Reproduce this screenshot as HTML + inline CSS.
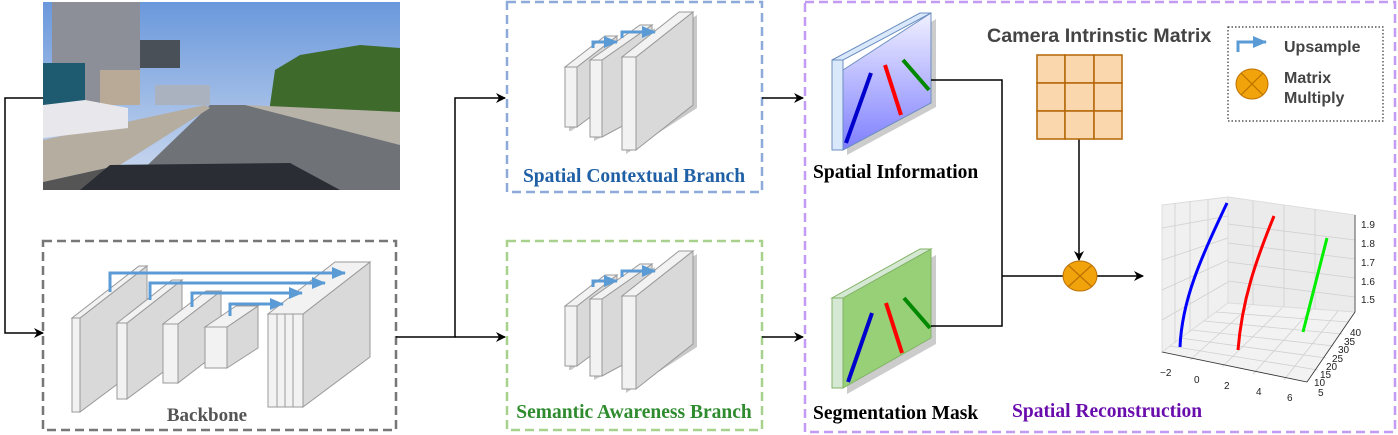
<!DOCTYPE html>
<html><head><meta charset="utf-8"><style>
html,body{margin:0;padding:0;background:#fff;}
svg{display:block;}
.sr{font-family:"Liberation Serif",serif;font-weight:bold;}
.ss{font-family:"Liberation Sans",sans-serif;font-weight:bold;}
.tk{font-family:"Liberation Sans",sans-serif;font-size:10px;fill:#222;}
</style></head><body>
<svg width="1398" height="435" viewBox="0 0 1398 435" xmlns="http://www.w3.org/2000/svg">
<defs>
<marker id="ah" markerWidth="10" markerHeight="10" refX="9" refY="5" orient="auto" markerUnits="userSpaceOnUse"><path d="M0,0 L10,5 L0,10 L3,5 z" fill="#000"/></marker>
<marker id="bh" markerWidth="14" markerHeight="12" refX="13" refY="6" orient="auto" markerUnits="userSpaceOnUse"><path d="M0,0 L14,6 L0,12 z" fill="#5b9bd5"/></marker>
<linearGradient id="sky" x1="0" y1="0" x2="0" y2="1"><stop offset="0" stop-color="#6a98dc"/><stop offset="1" stop-color="#d0dcf0"/></linearGradient>
<linearGradient id="bl" x1="0" y1="0" x2="0" y2="1"><stop offset="0" stop-color="#f0f0ff"/><stop offset="1" stop-color="#7f7fff"/></linearGradient>
</defs>

<!-- photo -->
<rect x="43" y="2" width="357" height="188" fill="url(#sky)"/>
<rect x="52" y="2" width="88" height="103" fill="#8d8f98"/>
<rect x="100" y="70" width="40" height="35" fill="#b9aa98"/>
<rect x="140" y="40" width="40" height="28" fill="#4a5058"/>
<rect x="43" y="63" width="42" height="42" fill="#1e5a70"/>
<rect x="155" y="85" width="55" height="20" fill="#aab2c0"/>
<path d="M270,105 L275,70 L300,55 L330,50 L360,45 L400,48 L400,118 L270,108 z" fill="#3e6a2c"/>
<path d="M245,105 L400,112 L400,145 L250,110 z" fill="#b8b3a8"/>
<path d="M130,182 L210,105 L245,105 L400,145 L400,190 L130,190 z" fill="#6f7378"/>
<path d="M43,140 L205,105 L210,108 L120,165 L43,182 z" fill="#b5ada0"/>
<path d="M43,105 L85,100 L128,108 L128,128 L43,138 z" fill="#e8e8ec"/>
<path d="M43,182 L120,165 L130,190 L43,190 z" fill="#555"/>
<path d="M80,190 L110,165 L290,163 L340,190 z" fill="#2a2d33"/>

<path d="M43,98 L5,98 L5,333 L43,333" fill="none" stroke="#000" stroke-width="1.5" marker-end="url(#ah)"/>

<rect x="43" y="241" width="353" height="189" fill="none" stroke="#777" stroke-width="2.5" stroke-dasharray="9,5"/>
<g stroke="#999" stroke-width="1" fill="#d9d9d9">
<path d="M80,318 L147,266 L147,362 L80,412 z"/>
<path d="M72,318 L80,318 L147,266 L139,266 z" fill="#f2f2f2"/>
<rect x="72" y="318" width="8" height="94" fill="#f2f2f2"/>
<path d="M127,323 L182,280 L182,358 L127,399 z"/>
<path d="M117,323 L127,323 L182,280 L172,280 z" fill="#f2f2f2"/>
<rect x="117" y="323" width="10" height="76" fill="#f2f2f2"/>
<path d="M178,324 L221,291 L221,350 L178,383 z"/>
<path d="M163,324 L178,324 L221,291 L206,291 z" fill="#f2f2f2"/>
<rect x="163" y="324" width="15" height="59" fill="#f2f2f2"/>
<path d="M227,327 L258,306 L258,348 L227,368 z"/>
<path d="M205,327 L227,327 L258,306 L236,306 z" fill="#f2f2f2"/>
<rect x="205" y="327" width="22" height="41" fill="#f2f2f2"/>
<path d="M303,314 L370,262 L370,357 L303,407 z"/>
<path d="M268,314 L303,314 L370,262 L335,262 z" fill="#f2f2f2"/>
<rect x="268" y="314" width="35" height="93" fill="#f2f2f2"/>
<line x1="277" y1="314" x2="277" y2="407"/><line x1="285" y1="314" x2="285" y2="407"/><line x1="293" y1="314" x2="293" y2="407"/>
</g>
<g stroke="#5b9bd5" stroke-width="3" fill="none">
<path d="M110,292 L110,273 L345,273" marker-end="url(#bh)"/>
<path d="M150,300 L150,283 L325,283" marker-end="url(#bh)"/>
<path d="M192,307 L192,293 L302,293" marker-end="url(#bh)"/>
<path d="M230,316 L230,304 L283,304" marker-end="url(#bh)"/>
</g>
<text x="207" y="421" text-anchor="middle" class="sr" font-size="19" fill="#555">Backbone</text>

<path d="M396,337 L455,337 L455,98 L505,98" fill="none" stroke="#000" stroke-width="1.5" marker-end="url(#ah)"/>
<path d="M455,337 L505,337" fill="none" stroke="#000" stroke-width="1.5" marker-end="url(#ah)"/>

<rect x="507" y="2" width="255" height="190" fill="none" stroke="#8eaadb" stroke-width="2.5" stroke-dasharray="9,5"/>
<rect x="507" y="241" width="255" height="189" fill="none" stroke="#a9d18e" stroke-width="2.5" stroke-dasharray="9,5"/>
<g id="br">
<g stroke="#999" stroke-width="1" fill="#d9d9d9">
<path d="M569,131 L571,131 L620,96 L620,40 L569,70 z" fill="#c8c8c8" stroke="none"/>
<path d="M594,141 L655,110 L655,28 L594,64 z" fill="#c8c8c8" stroke="none"/>
<path d="M626,154 L697,108 L697,15 L626,60 z" fill="#c8c8c8" stroke="none"/>
<path d="M577,67 L617,36 L617,97 L577,127 z"/>
<path d="M565,67 L577,67 L617,36 L605,36 z" fill="#f2f2f2"/>
<rect x="565" y="67" width="12" height="60" fill="#f2f2f2"/>
<path d="M602,60 L652,25 L652,110 L602,137 z"/>
<path d="M590,60 L602,60 L652,25 L640,25 z" fill="#f2f2f2"/>
<rect x="590" y="60" width="12" height="77" fill="#f2f2f2"/>
<path d="M636,57 L693,12 L693,105 L636,150 z"/>
<path d="M622,57 L636,57 L693,12 L679,12 z" fill="#f2f2f2"/>
<rect x="622" y="57" width="14" height="93" fill="#f2f2f2"/>
</g>
<g stroke="#5b9bd5" stroke-width="3" fill="none">
<path d="M593,48 L593,42 L617,42" marker-end="url(#bh)"/>
<path d="M622,38 L622,32 L655,32" marker-end="url(#bh)"/>
</g>
</g>
<use href="#br" transform="translate(0,239)"/>
<text x="634" y="182" text-anchor="middle" class="sr" font-size="19.5" fill="#1f5fa5">Spatial Contextual Branch</text>
<text x="634" y="418" text-anchor="middle" class="sr" font-size="19.5" fill="#2e8b2e">Semantic Awareness Branch</text>

<path d="M762,98 L803,98" stroke="#000" stroke-width="1.5" marker-end="url(#ah)"/>
<path d="M762,337 L803,337" stroke="#000" stroke-width="1.5" marker-end="url(#ah)"/>

<rect x="805" y="2" width="590" height="430" fill="none" stroke="#c39bf5" stroke-width="2.5" stroke-dasharray="9,5"/>

<!-- spatial info slab -->
<path d="M847,155 L936,107 L936,19 L847,76 z" fill="#ccc"/>
<path d="M843,70 L931,13 L931,103 L843,150 z" fill="url(#bl)" stroke="#6c8ebf"/>
<path d="M832,60 L843,60 L931,13 L920,13 z" fill="#dae8fc" stroke="#6c8ebf"/>
<rect x="832" y="60" width="11" height="90" fill="#dae8fc" stroke="#6c8ebf"/>
<line x1="846" y1="143" x2="871" y2="73" stroke="#0000cc" stroke-width="4"/>
<line x1="885" y1="65" x2="901" y2="115" stroke="#ff0000" stroke-width="4"/>
<line x1="903" y1="60" x2="929" y2="90" stroke="#008800" stroke-width="4"/>
<text x="813" y="178" class="sr" font-size="19.5" fill="#000">Spatial Information</text>

<!-- seg mask slab -->
<path d="M847,394 L936,344 L936,255 L847,304 z" fill="#ccc"/>
<path d="M843,298 L931,249 L931,338 L843,388 z" fill="#97d077" stroke="#82b366"/>
<path d="M832,298 L843,298 L931,249 L920,249 z" fill="#d5e8d4" stroke="#82b366"/>
<rect x="832" y="298" width="11" height="90" fill="#d5e8d4" stroke="#82b366"/>
<line x1="848" y1="382" x2="872" y2="313" stroke="#0000cc" stroke-width="4"/>
<line x1="886" y1="303" x2="902" y2="353" stroke="#ff0000" stroke-width="4"/>
<line x1="904" y1="298" x2="930" y2="328" stroke="#008800" stroke-width="4"/>
<text x="813" y="419" class="sr" font-size="19.5" fill="#000">Segmentation Mask</text>
<text x="1012" y="417" class="sr" font-size="19.5" fill="#6a0dad">Spatial Reconstruction</text>

<path d="M931,80 L1002,80 L1002,326 L931,326" fill="none" stroke="#000" stroke-width="1.5"/>
<path d="M1002,276 L1063,276" stroke="#000" stroke-width="1.5"/>
<path d="M1097,276 L1143,276" stroke="#000" stroke-width="1.5" marker-end="url(#ah)"/>
<path d="M1079,139 L1079,260" stroke="#000" stroke-width="1.5" marker-end="url(#ah)"/>
<ellipse cx="1080" cy="276" rx="17" ry="15" fill="#f0a30a" stroke="#bd7000"/>
<path d="M1068,265 L1092,287 M1092,265 L1068,287" stroke="#bd7000" stroke-width="1.2"/>

<text x="987" y="42" class="ss" font-size="19.7" fill="#444">Camera Intrinstic Matrix</text>
<g fill="#fad7ac" stroke="#b46504" stroke-width="1.5">
<rect x="1037" y="55" width="28" height="28"/><rect x="1065" y="55" width="29" height="28"/><rect x="1094" y="55" width="28" height="28"/>
<rect x="1037" y="83" width="28" height="28"/><rect x="1065" y="83" width="29" height="28"/><rect x="1094" y="83" width="28" height="28"/>
<rect x="1037" y="111" width="28" height="28"/><rect x="1065" y="111" width="29" height="28"/><rect x="1094" y="111" width="28" height="28"/>
</g>

<rect x="1228" y="27" width="155" height="94" fill="none" stroke="#333" stroke-width="1.2" stroke-dasharray="1.5,2"/>
<path d="M1238,52 L1238,42 L1266,42" stroke="#5b9bd5" stroke-width="3" fill="none" marker-end="url(#bh)"/>
<text x="1284" y="52" class="ss" font-size="16" fill="#444">Upsample</text>
<ellipse cx="1252" cy="84" rx="16" ry="15" fill="#f0a30a" stroke="#bd7000"/>
<path d="M1241,73 L1263,95 M1263,73 L1241,95" stroke="#bd7000" stroke-width="1.2"/>
<text x="1284" y="83" class="ss" font-size="16" fill="#444">Matrix</text>
<text x="1284" y="103" class="ss" font-size="16" fill="#444">Multiply</text>

<!-- 3D plot -->
<path d="M1162,205 L1228,197 L1228,303 L1162,352 z" fill="#f0f0f0" stroke="#ddd"/>
<path d="M1228,197 L1355,215 L1355,312 L1228,303 z" fill="#ebebeb" stroke="#ddd"/>
<path d="M1162,352 L1228,303 L1355,312 L1307,382 z" fill="#f2f2f2" stroke="#ddd"/>
<g stroke="#d0d0d0" stroke-width="0.8">
<line x1="1175" y1="203" x2="1175" y2="343"/><line x1="1190" y1="201" x2="1190" y2="332"/><line x1="1208" y1="199" x2="1208" y2="318"/>
<line x1="1253" y1="201" x2="1253" y2="305"/><line x1="1284" y1="205" x2="1284" y2="307"/><line x1="1315" y1="209" x2="1315" y2="309"/>
<line x1="1162" y1="228" x2="1228" y2="216"/><line x1="1162" y1="260" x2="1228" y2="238"/><line x1="1162" y1="290" x2="1228" y2="260"/><line x1="1162" y1="320" x2="1228" y2="282"/>
<line x1="1228" y1="224" x2="1355" y2="240"/><line x1="1228" y1="243" x2="1355" y2="259"/><line x1="1228" y1="262" x2="1355" y2="278"/><line x1="1228" y1="281" x2="1355" y2="297"/>
<line x1="1190" y1="360" x2="1250" y2="306"/><line x1="1222" y1="367" x2="1282" y2="308"/><line x1="1253" y1="374" x2="1312" y2="309"/><line x1="1284" y1="380" x2="1338" y2="311"/>
<line x1="1170" y1="346" x2="1318" y2="370"/><line x1="1180" y1="338" x2="1326" y2="358"/><line x1="1192" y1="330" x2="1334" y2="346"/><line x1="1204" y1="321" x2="1342" y2="334"/><line x1="1216" y1="312" x2="1348" y2="322"/>
</g>
<g stroke="#333" stroke-width="0.8" fill="none">
<line x1="1162" y1="352" x2="1307" y2="382"/>
<line x1="1307" y1="382" x2="1355" y2="312"/>
<line x1="1355" y1="215" x2="1355" y2="312"/>
</g>
<path d="M1180,347 C1182,300 1200,260 1227,203" stroke="#0000ff" stroke-width="3" fill="none"/>
<path d="M1238,350 C1242,300 1256,260 1274,216" stroke="#ff0000" stroke-width="3" fill="none"/>
<path d="M1303,332 L1327,238" stroke="#00ee00" stroke-width="3" fill="none"/>
<text x="1361" y="228" class="tk">1.9</text><text x="1361" y="247" class="tk">1.8</text><text x="1361" y="266" class="tk">1.7</text><text x="1361" y="285" class="tk">1.6</text><text x="1361" y="303" class="tk">1.5</text>
<text x="1160" y="376" class="tk">−2</text><text x="1194" y="383" class="tk">0</text><text x="1224" y="389" class="tk">2</text><text x="1256" y="395" class="tk">4</text><text x="1287" y="401" class="tk">6</text>
<text x="1350" y="336" class="tk">40</text><text x="1344" y="345" class="tk">35</text><text x="1338" y="353" class="tk">30</text><text x="1332" y="362" class="tk">25</text><text x="1326" y="370" class="tk">20</text><text x="1320" y="378" class="tk">15</text><text x="1314" y="386" class="tk">10</text><text x="1318" y="396" class="tk">5</text>
</svg>
</body></html>
